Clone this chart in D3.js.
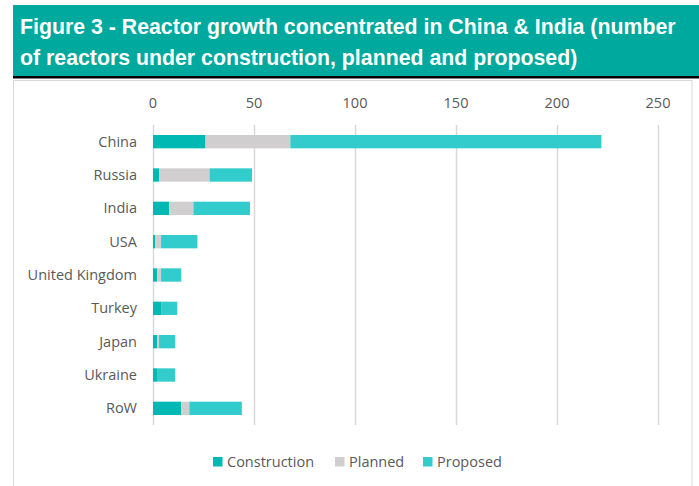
<!DOCTYPE html>
<html>
<head>
<meta charset="utf-8">
<script src="https://cdnjs.cloudflare.com/ajax/libs/d3/7.8.5/d3.min.js"></script>
<style>
  body { margin: 0; background: #fff; }
  svg { display: block; }
</style>
</head>
<body>
<div id="chart"></div>
<script>
var countries = ["China", "Russia", "India", "USA", "United Kingdom", "Turkey", "Japan", "Ukraine", "RoW"];
var construction = [26, 3, 8, 1, 2, 4, 2, 2, 14];
var planned = [42, 25, 12, 3, 2, 0, 1, 0, 4];
var proposed = [154, 21, 28, 18, 10, 8, 8, 9, 26];
var seriesNames = ["Construction", "Planned", "Proposed"];
var xTicks = [0, 50, 100, 150, 200, 250];

var colors = { Construction: "#00b9b2", Planned: "#d0cecf", Proposed: "#33cccc" };

var W = 699, H = 486;
var svg = d3.select("#chart").append("svg")
    .attr("width", W)
    .attr("height", H);

// title banner
svg.append("rect")
    .attr("x", 13).attr("y", 5)
    .attr("width", W - 13).attr("height", 71)
    .attr("fill", "#00a99d");
svg.append("rect")
    .attr("x", 13).attr("y", 76)
    .attr("width", W - 13).attr("height", 2.5)
    .attr("fill", "#000");
var title = svg.append("text")
    .attr("fill", "#fff")
    .style("font-family", "Liberation Sans, Arial, sans-serif")
    .style("font-weight", "bold")
    .style("font-size", "21.3px");
title.append("tspan").attr("x", 20).attr("y", 34)
    .text("Figure 3 - Reactor growth concentrated in China & India (number");
title.append("tspan").attr("x", 20).attr("y", 65)
    .text("of reactors under construction, planned and proposed)");

// chart frame
svg.append("rect")
    .attr("x", 13.5).attr("y", 80.5)
    .attr("width", 678.5).attr("height", H)
    .attr("fill", "none")
    .attr("stroke", "#d9d9d9");

var margin = { top: 125, left: 153, right: 41, bottom: 61 };

var g = svg.append("g")
    .attr("transform", "translate(" + margin.left + "," + margin.top + ")");

var x = d3.scaleLinear().domain([0, 250]).range([0, 505]);
var y = d3.scaleBand().domain(countries).range([0, 300]).paddingInner(0.6).paddingOuter(0.3);

// gridlines
g.selectAll(".grid")
    .data(xTicks)
    .enter().append("line")
    .attr("x1", function(d) { return x(d) + 0.5; })
    .attr("x2", function(d) { return x(d) + 0.5; })
    .attr("y1", 0).attr("y2", 300)
    .attr("stroke", "#d9d9d9")
    .attr("stroke-width", 1.5);

// tick labels on top
g.selectAll(".tick-label")
    .data(xTicks)
    .enter().append("text")
    .attr("x", function(d) { return x(d); })
    .attr("y", -17)
    .attr("text-anchor", "middle")
    .attr("fill", "#595959")
    .style("font-family", "Open Sans, sans-serif")
    .style("font-size", "14.5px")
    .text(function(d) { return d; });

// stacked bars
var rows = countries.map(function(c, i) {
    return { country: c, Construction: construction[i], Planned: planned[i], Proposed: proposed[i] };
});
var stacked = d3.stack().keys(seriesNames)(rows);

g.selectAll(".series")
    .data(stacked)
    .enter().append("g")
    .attr("fill", function(d) { return colors[d.key]; })
    .selectAll("rect")
    .data(function(d) { return d; })
    .enter().append("rect")
    .attr("x", function(d) { return x(d[0]); })
    .attr("y", function(d) { return y(d.data.country); })
    .attr("width", function(d) { return x(d[1]) - x(d[0]); })
    .attr("height", y.bandwidth());

// category labels
g.selectAll(".cat")
    .data(countries)
    .enter().append("text")
    .attr("x", -16)
    .attr("y", function(d) { return y(d) + y.bandwidth() / 2; })
    .attr("dy", "0.35em")
    .attr("text-anchor", "end")
    .attr("fill", "#595959")
    .style("font-family", "Open Sans, sans-serif")
    .style("font-size", "14.5px")
    .text(function(d) { return d; });

// legend
var legendX = [213, 335, 423];
var legend = svg.selectAll(".legend")
    .data(seriesNames)
    .enter().append("g")
    .attr("transform", function(d, i) { return "translate(" + legendX[i] + ",457)"; });
legend.append("rect")
    .attr("width", 9.5).attr("height", 9.5)
    .attr("fill", function(d) { return colors[d]; });
legend.append("text")
    .attr("x", 14).attr("y", 5)
    .attr("dy", "0.35em")
    .attr("fill", "#595959")
    .style("font-family", "Open Sans, sans-serif")
    .style("font-size", "14.5px")
    .text(function(d) { return d; });
</script>
</body>
</html>
